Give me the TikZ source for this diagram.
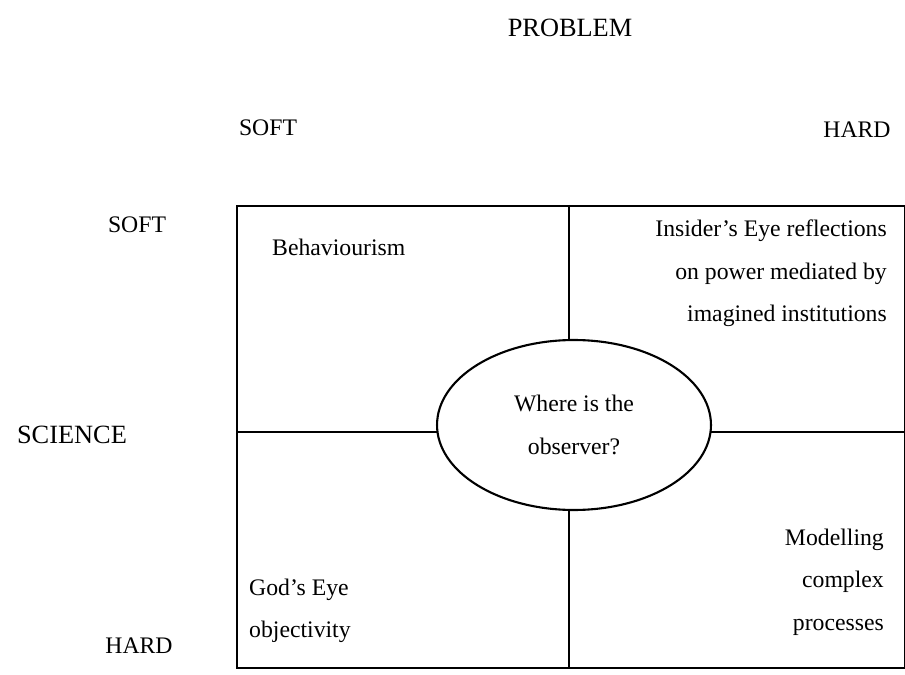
\documentclass[tikz,border=0pt]{standalone}
\usepackage{fontspec}
\setmainfont{Liberation Serif}
\usetikzlibrary{shapes.geometric}
\tikzset{
    axislabel/.style={font=\fontsize{15}{18}\selectfont},
    celltext/.style={font=\fontsize{13.5}{24}\selectfont},
    gridline/.style={line width=1.2pt}
}
\begin{document}
\begin{tikzpicture}[x=0.02cm, y=-0.02cm]
    \useasboundingbox (0,0) rectangle (905,675);

    % Axis labels
    \node[axislabel] (problem) at (570,28) {PROBLEM};
    \node[celltext] (psoft) at (268,128) {SOFT};
    \node[celltext] (phard) at (857,130) {HARD};
    \node[celltext] (ssoft) at (137,225) {SOFT};
    \node[axislabel] (science) at (72,435) {SCIENCE};
    \node[celltext] (shard) at (139,646) {HARD};

    % Frame and dividers
    \node[gridline, draw, minimum width=13.36cm, minimum height=9.24cm, anchor=north west] (frame) at (236,205) {};
    \coordinate (vtop) at (569,205);
    \coordinate (vbot) at (569,667);
    \coordinate (hleft) at (236,432);
    \coordinate (hright) at (904,432);
    \draw[gridline] (vtop) -- (vbot);
    \draw[gridline] (hleft) -- (hright);

    % Observer
    \node[gridline, draw, fill=white, ellipse, minimum width=5.48cm, minimum height=3.4cm,
        celltext, align=center] (observer) at (574,425) {Where is the\\observer?};

    % Quadrants
    \node[celltext, anchor=west] (behav) at (266,247) {Behaviourism};
    \node[celltext, anchor=north east, align=right] (insider) at (893,214)
        {Insider’s Eye reflections\\on power mediated by\\imagined institutions};
    \node[celltext, anchor=north east, align=right] (model) at (890,523)
        {Modelling\\complex\\processes};
    \node[celltext, anchor=north west, align=left] (god) at (243,573)
        {God’s Eye\\objectivity};
\end{tikzpicture}
\end{document}
